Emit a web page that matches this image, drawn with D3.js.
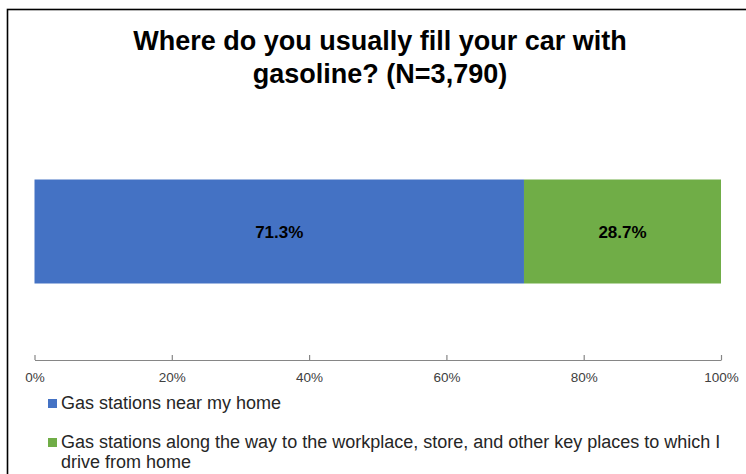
<!DOCTYPE html>
<html>
<head>
<meta charset="utf-8">
<script src="https://cdn.jsdelivr.net/npm/d3@7"></script>
<style>
    body { margin: 0; background: #fff; }
    svg { display: block; font-family: "Liberation Sans", Arial, sans-serif; }
</style>
</head>
<body>
<div id="chart"></div>
<script>
// data
var categories = ["Where do you usually fill your car with gasoline?"];
var seriesNames = ["Gas stations near my home",
    "Gas stations along the way to the workplace, store, and other key places to which I drive from home"];
var seriesValues = [71.3, 28.7];
var seriesColors = ["#4472C4", "#70AD47"];
var tickValues = [0, 20, 40, 60, 80, 100];
var titleLines = ["Where do you usually fill your car with", "gasoline? (N=3,790)"];

var width = 746, height = 474;
var margin = {left: 34.5, right: 25, axisY: 360};

var svg = d3.select('#chart').append('svg')
    .attr('width', width)
    .attr('height', height);

// chart frame (right/bottom edges fall outside the picture)
svg.append('rect')
    .attr('x', 7.5).attr('y', 9.5)
    .attr('width', 780).attr('height', 500)
    .attr('fill', 'none')
    .attr('stroke', '#000')
    .attr('stroke-width', 1.6);

// title
svg.append('text')
    .attr('x', 380)
    .attr('y', 50)
    .attr('text-anchor', 'middle')
    .attr('font-size', 27)
    .attr('font-weight', 'bold')
    .attr('fill', '#000')
    .selectAll('tspan')
    .data(titleLines)
    .enter().append('tspan')
    .attr('x', 380)
    .attr('dy', function (d, i) { return i === 0 ? 0 : 33; })
    .text(function (d) { return d; });

var x = d3.scaleLinear().domain([0, 100]).range([margin.left, width - margin.right]);
var y = d3.scaleBand().domain(categories).range([179.5, 283.5]).padding(0);

// stack the values
var stacked = [];
var acc = 0;
seriesValues.forEach(function (v, i) {
    stacked.push({name: seriesNames[i], value: v, x0: acc, x1: acc + v, color: seriesColors[i]});
    acc += v;
});

var bars = svg.append('g');
bars.selectAll('rect')
    .data(stacked)
    .enter().append('rect')
    .attr('x', function (d) { return x(d.x0); })
    .attr('y', y(categories[0]))
    .attr('width', function (d) { return x(d.x1) - x(d.x0); })
    .attr('height', y.bandwidth())
    .attr('fill', function (d) { return d.color; });

bars.selectAll('text')
    .data(stacked)
    .enter().append('text')
    .attr('x', function (d) { return (x(d.x0) + x(d.x1)) / 2; })
    .attr('y', y(categories[0]) + y.bandwidth() / 2 + 6)
    .attr('text-anchor', 'middle')
    .attr('font-size', 17)
    .attr('font-weight', 'bold')
    .attr('fill', '#000')
    .text(function (d) { return d.value.toFixed(1) + '%'; });

// x axis, ticks pointing up
var xAxis = d3.axisBottom(x)
    .tickValues(tickValues)
    .tickFormat(function (d) { return d + '%'; })
    .tickSizeInner(-5)
    .tickSizeOuter(0)
    .tickPadding(12);

var axisG = svg.append('g')
    .attr('transform', 'translate(0,' + margin.axisY + ')')
    .call(xAxis);
axisG.select('.domain').attr('stroke', '#868686').attr('stroke-width', 1.2);
axisG.selectAll('.tick line').attr('stroke', '#868686').attr('stroke-width', 1.2);
axisG.selectAll('.tick text')
    .attr('font-size', 13.5)
    .attr('font-family', '"Liberation Sans", Arial, sans-serif')
    .attr('fill', '#404040');

// legend
var legendX = 48, textX = 61, wrapWidth = 668;
var legendRows = [{y: 409}, {y: 448}];
seriesNames.forEach(function (name, i) {
    var row = svg.append('g');
    row.append('rect')
        .attr('x', legendX)
        .attr('y', legendRows[i].y - 10)
        .attr('width', 9)
        .attr('height', 9)
        .attr('fill', seriesColors[i]);
    var t = row.append('text')
        .attr('x', textX)
        .attr('y', legendRows[i].y)
        .attr('font-size', 18)
        .attr('fill', '#262626');
    // simple word wrap
    var words = name.split(' ');
    var line = [];
    var tspan = t.append('tspan').attr('x', textX).attr('dy', 0);
    words.forEach(function (w) {
        line.push(w);
        tspan.text(line.join(' '));
        if (tspan.node().getComputedTextLength() > wrapWidth && line.length > 1) {
            line.pop();
            tspan.text(line.join(' '));
            line = [w];
            tspan = t.append('tspan').attr('x', textX).attr('dy', 20).text(w);
        }
    });
});
</script>
</body>
</html>
